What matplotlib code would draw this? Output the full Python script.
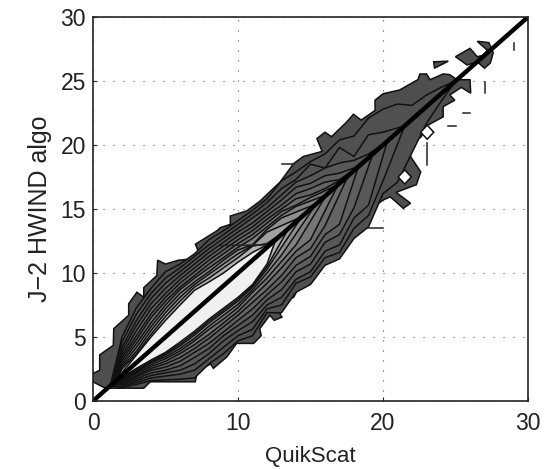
import matplotlib
matplotlib.use("Agg")
import matplotlib.pyplot as plt

plt.rcParams['font.family'] = ['Liberation Sans', 'DejaVu Sans']

# outer contour (x, y in wind speed units)
outer_x = [0, 0, 0.46, 0.46, 1.4, 1.43, 2.46, 2.46, 3.03, 3.5, 3.5, 4.4, 4.46, 5, 5.9, 6.83, 7.3, 7.06, 8.55,
           8.8, 9.47, 9.47, 10.6, 11.5, 12.9, 13.84, 14.5, 15.8, 15.44, 16, 16.45, 17.5, 17.96, 18.5, 19.45,
           19.45, 20, 21.15, 22.4, 22.55, 23, 23.25, 24.15, 24.6, 25.1, 26, 26.05, 25.4, 24.6, 24.95, 24.15,
           24.15, 23.1, 22.6, 21.9, 21.9, 22.6, 22.3, 20.9, 21.9, 21.4, 20.5, 20, 18.45, 18.9, 17.5, 16.4,
           15.2, 14.2, 13.84, 13.3, 12.9, 13.03, 12.5, 12.2, 11.5, 11.6, 11.08, 9.9, 9.24, 8.3, 8.1, 7.2, 7.05,
           3.95, 3.5, 0.85]
outer_y = [1.5, 2.15, 2.4, 3.6, 4.35, 5.65, 6.7, 7.6, 8.5, 8.1, 8.85, 9.8, 11, 10.7, 11, 11.1, 11.6, 12.25, 13.3,
           13.55, 13.8, 14.45, 14.85, 15.6, 17.1, 18.55, 19.1, 19.5, 20.5, 21, 20.65, 21.8, 22.4, 21.95, 22.7,
           23.5, 24, 24.3, 25.1, 25.55, 25.55, 25.1, 25.55, 25.5, 25.1, 25.1, 24.05, 24.5, 23.9, 23.5, 23,
           22.2, 21.55, 20.6, 20.1, 19.1, 17.9, 16.9, 16.3, 15.45, 15.05, 15.95, 15.7, 14.4, 13.5, 13.65, 12.6,
           10.7, 8.9, 8.1, 7.9, 6.8, 6.55, 6.3, 6.7, 5.65, 5.1, 4.5, 4.5, 3.45, 2.55, 2.9, 2.3, 1.5,
           1.5, 1.0, 1.0]

# upper and lower edges of the inner contours, one value per whole x from 2 on
upper_1 = [5.0, 7.3, 8.8, 10.1, 10.7, 11.5, 12.6, 13.3, 14.1, 14.9, 15.8, 17.2, 17.9, 18.7, 19.3, 20.4, 20.7, 22.1, 22.8, 23.2, 23.1, 23.9, 24.5]
lower_1 = [1.05, 1.3, 1.6, 1.65, 1.7, 1.8, 2.9, 3.7, 4.7, 5.1, 6.9, 6.9, 8.5, 9.1, 10.6, 11.1, 12.7, 13.6, 16.2, 17.1, 19.4, 21.7, 23.4]
upper_2 = [4.6, 6.8, 8.4, 9.6, 10.4, 11.3, 12.2, 13, 13.8, 14.6, 15.5, 16.6, 17.3, 18.5, 18.2, 19.8, 19.1, 20.8, 21.0]
lower_2 = [1.15, 1.45, 1.8, 1.95, 2.1, 2.4, 3.3, 4.2, 5.1, 5.6, 7.2, 7.5, 9.2, 9.7, 11.2, 11.6, 13.5, 14.5, 17.2]
upper_3 = [4.2, 6.3, 8, 9.2, 10.1, 11, 11.9, 12.7, 13.5, 14.3, 15.1, 16.1, 17.1, 17.6, 18.2, 18.6, 18.8, 19.3]
lower_3 = [1.25, 1.6, 2, 2.2, 2.4, 2.9, 3.7, 4.7, 5.5, 6.2, 7.5, 8.1, 9.5, 10.1, 11.7, 12.2, 14.3, 15.3]
upper_4 = [3.9, 5.9, 7.6, 8.8, 9.8, 10.7, 11.6, 12.4, 13.2, 13.9, 14.8, 15.7, 16.7, 17.0, 17.6, 17.8, 18.2]
lower_4 = [1.35, 1.75, 2.2, 2.4, 2.75, 3.4, 4.1, 5.1, 5.9, 6.7, 7.9, 8.7, 10.1, 10.7, 12.4, 13.0, 15.1]
upper_5 = [3.6, 5.5, 7.2, 8.4, 9.5, 10.4, 11.3, 12.1, 12.9, 13.6, 14.5, 15.3, 16.2, 16.6, 17.1, 17.3]
lower_5 = [1.45, 1.9, 2.4, 2.65, 3.1, 3.8, 4.5, 5.4, 6.3, 7.2, 8.3, 9.3, 10.6, 11.3, 13.0, 13.8]
upper_6 = [3.4, 5.1, 6.8, 8.1, 9.2, 10.1, 11, 11.8, 12.6, 13.3, 14.2, 15.0, 15.8, 16.1, 16.6]
lower_6 = [1.5, 2.0, 2.55, 2.9, 3.4, 4.1, 4.9, 5.8, 6.7, 7.7, 8.7, 9.8, 11.2, 11.9, 13.7]
upper_7 = [3.2, 4.8, 6.5, 7.8, 8.9, 9.8, 10.7, 11.5, 12.3, 13, 13.9, 14.8, 15.3, 15.9]
lower_7 = [1.6, 2.15, 2.7, 3.1, 3.7, 4.4, 5.2, 6.1, 7, 8.1, 9.2, 10.4, 11.7, 12.6]
upper_8 = [3.0, 4.5, 6.1, 7.5, 8.7, 9.6, 10.4, 11.2, 12.0, 12.7, 13.6, 14.5, 15.2]
lower_8 = [1.65, 2.25, 2.85, 3.3, 3.9, 4.7, 5.6, 6.4, 7.3, 8.5, 9.6, 10.9, 12.2]
upper_9 = [2.8, 4.2, 5.8, 7.2, 8.4, 9.3, 10.1, 11, 11.8, 12.2, 13.4, 14.3]
lower_9 = [1.7, 2.3, 3, 3.45, 4.1, 4.9, 5.85, 6.7, 7.55, 8.7, 10, 11.4]
upper_10 = [2.65, 3.9, 5.5, 6.9, 8.1, 9.1, 9.9, 10.7, 11.5, 12.15, 13.2]
lower_10 = [1.75, 2.4, 3.05, 3.6, 4.3, 5.15, 6.1, 6.95, 7.8, 8.9, 10.3]
upper_11 = [2.5, 3.7, 5.2, 6.6, 7.8, 8.9, 9.6, 10.4, 11.2, 12.1, 12.3]
lower_11 = [1.8, 2.5, 3.15, 3.7, 4.45, 5.3, 6.25, 7.1, 7.95, 9.0, 10.5]
upper_12 = [2.2, 3.6, 5, 6.3, 7.5, 8.65, 9.3, 10, 10.85, 11.6, 12.2]
lower_12 = [1.85, 2.55, 3.2, 3.8, 4.6, 5.45, 6.4, 7.25, 8.1, 9.1, 10.7]

uppers = [upper_1, upper_2, upper_3, upper_4, upper_5, upper_6, upper_7, upper_8, upper_9, upper_10, upper_11, upper_12]
lowers = [lower_1, lower_2, lower_3, lower_4, lower_5, lower_6, lower_7, lower_8, lower_9, lower_10, lower_11, lower_12]
# where each contour opens and closes on the diagonal, last entry is the white lens
starts = [1.2, 1.2, 1.3, 1.3, 1.3, 1.4, 1.4, 1.4, 1.5, 1.5, 1.6, 1.8]
tips = [25.0, 21.5, 20.3, 19.3, 18.3, 17.6, 16.9, 16.1, 15.4, 14.4, 13.5, 12.6]
greys = ['#505050', '#545454', '#585858', '#5e5e5e', '#646464', '#6c6c6c', '#767676', '#828282', '#909090', '#a0a0a0', '#b4b4b4', '#f0f0f0']

# detached bits near the top of the distribution
island_x = [25, 26, 26.5, 26.9, 27.2, 26.5, 27.3, 27.6, 27.4, 27, 26.5, 25.8]
island_y = [26.9, 27.55, 26.9, 27, 27.4, 28.1, 28, 27.2, 26.4, 26, 26.5, 26.25]
wedge_x = [23.5, 24.5, 23.55]
wedge_y = [26.5, 26.55, 26]
hole_1_x = [22.6, 23.05, 23.5, 23.05]
hole_1_y = [21, 21.55, 21, 20.45]
hole_2_x = [21.05, 21.5, 21.95, 21.5]
hole_2_y = [17.5, 18.05, 17.5, 16.95]
seg_x = [[29, 29], [27.05, 27.05], [25.55, 26], [24.5, 25], [23.03, 23.03], [13.03, 13.84], [18.9, 20], [8.8, 12.3]]
seg_y = [[27.4, 28], [24.05, 24.9], [22.5, 22.5], [21.5, 21.5], [18.4, 20.15], [18.55, 18.55], [13.5, 13.5], [12.15, 12.2]]

ticks_x = [0, 10, 20, 30]
ticks_y = [0, 5, 10, 15, 20, 25, 30]

fig = plt.figure(figsize=(5.5, 4.69), dpi=100)
ax = fig.add_axes([93 / 550, 68 / 469, 435 / 550, 384 / 469])

# grid under the contours
ax.set_axisbelow(True)
ax.grid(True, color='#555555', linewidth=0.8, linestyle=(0, (1, 8)))

ax.fill(outer_x, outer_y, facecolor='#4e4e4e', edgecolor='#111111', linewidth=1.1)
for up, low, start, tip, grey in zip(uppers, lowers, starts, tips, greys):
    xs_up = list(range(2, 2 + len(up)))
    xs_low = list(range(2, 2 + len(low)))
    px = [start] + xs_up + [tip] + xs_low[::-1]
    py = [start] + up + [tip] + low[::-1]
    ax.fill(px, py, facecolor=grey, edgecolor='#111111', linewidth=1.1)

ax.fill(island_x, island_y, facecolor='#4e4e4e', edgecolor='#111111', linewidth=1.1)
ax.fill(wedge_x, wedge_y, facecolor='#4e4e4e', edgecolor='#111111', linewidth=1.1)
ax.fill(hole_1_x, hole_1_y, facecolor='white', edgecolor='#111111', linewidth=1.1)
ax.fill(hole_2_x, hole_2_y, facecolor='white', edgecolor='#111111', linewidth=1.1)
for sx, sy in zip(seg_x, seg_y):
    ax.plot(sx, sy, color='#222222', linewidth=1.1)

ax.plot([0, 30], [0, 30], color='black', linewidth=3.2, solid_capstyle='butt')

ax.set_xlim(0, 30)
ax.set_ylim(0, 30)
ax.set_xticks(ticks_x)
ax.set_yticks(ticks_y)
ax.tick_params(direction='in', length=3, width=0.8, labelsize=16.5, color='#222222', labelcolor='#222222')
ax.tick_params(axis='x', pad=8)
ax.tick_params(axis='y', pad=5)
ax.set_xlabel('QuikScat', fontsize=16, color='#222222', labelpad=8)
ax.set_ylabel('J\u22122 HWIND algo', fontsize=18, color='#222222', labelpad=6)
for s in ax.spines.values():
    s.set_linewidth(1.2)
    s.set_color('#222222')

fig.savefig('out.png', dpi=100)
